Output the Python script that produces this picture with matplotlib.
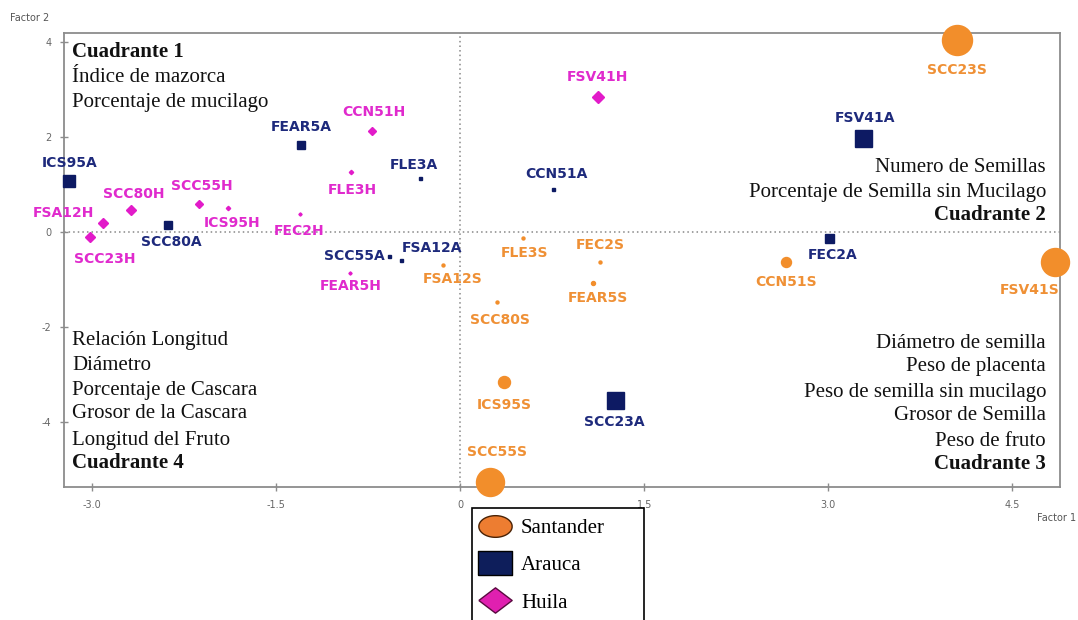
import numpy as np
import matplotlib.pyplot as plt
from matplotlib.lines import Line2D
from matplotlib.path import Path

# Data (Factor 1, Factor 2, marker diameter in px)
santander_names = ["SCC23S", "FSV41S", "SCC55S", "ICS95S", "CCN51S",
                   "FLE3S", "FEC2S", "FEAR5S", "FSA12S", "SCC80S"]
santander_f1 = [4.05, 4.85, 0.24, 0.36, 2.66, 0.51, 1.14, 1.08, -0.14, 0.30]
santander_f2 = [4.05, -0.63, -5.27, -3.16, -0.63, -0.13, -0.63, -1.08, -0.70, -1.48]
santander_size = [30, 28, 28, 12, 10, 3, 3, 4, 3, 3]

arauca_names = ["FSV41A", "SCC23A", "ICS95A", "FEAR5A", "SCC80A",
                "FEC2A", "FLE3A", "CCN51A", "SCC55A", "FSA12A"]
arauca_f1 = [3.28, 1.26, -3.19, -1.30, -2.38, 3.01, -0.33, 0.76, -0.58, -0.48]
arauca_f2 = [1.98, -3.54, 1.08, 1.84, 0.15, -0.13, 1.14, 0.91, -0.51, -0.59]
arauca_size = [17, 17, 12, 8, 8, 9, 3, 3, 3, 3]

huila_names = ["FSV41H", "CCN51H", "FLE3H", "FEC2H", "ICS95H",
               "SCC55H", "SCC80H", "FSA12H", "SCC23H", "FEAR5H"]
huila_f1 = [1.12, -0.72, -0.89, -1.31, -1.89, -2.13, -2.68, -2.91, -3.02, -0.90]
huila_f2 = [2.85, 2.13, 1.27, 0.38, 0.51, 0.59, 0.46, 0.19, -0.11, -0.86]
huila_size = [11, 8, 4, 3, 4, 8, 10, 9, 9, 3]

x_ticks = [-3.0, -1.5, 0, 1.5, 3.0, 4.5]
x_tick_labels = ["-3.0", "-1.5", "0", "1.5", "3.0", "4.5"]
y_ticks = [4, 2, 0, -2, -4]
y_tick_labels = ["4", "2", "0", "-2", "-4"]

quad1 = ["Cuadrante 1", "Índice de mazorca", "Porcentaje de mucilago"]
quad2 = ["Numero de Semillas", "Porcentaje de Semilla sin Mucilago", "Cuadrante 2"]
quad4 = ["Relación Longitud", "Diámetro", "Porcentaje de Cascara",
         "Grosor de la Cascara", "Longitud del Fruto", "Cuadrante 4"]
quad3 = ["Diámetro de semilla", "Peso de placenta", "Peso de semilla sin mucilago",
         "Grosor de Semilla", "Peso de fruto", "Cuadrante 3"]

legend_labels = ["Santander", "Arauca", "Huila"]

# label offsets in pixels (dx, dy up), alignment
label_offsets = {
    "SCC23S": (0, -30, "center"), "FSV41S": (-25, -28, "center"),
    "SCC55S": (7, 30, "center"), "ICS95S": (0, -23, "center"),
    "CCN51S": (0, -20, "center"), "FLE3S": (2, -15, "center"),
    "FEC2S": (0, 17, "center"), "FEAR5S": (5, -15, "center"),
    "FSA12S": (10, -14, "center"), "SCC80S": (3, -18, "center"),
    "FSV41A": (2, 20, "center"), "SCC23A": (0, -22, "center"),
    "ICS95A": (1, 18, "center"), "FEAR5A": (1, 18, "center"),
    "SCC80A": (3, -17, "center"), "FEC2A": (3, -17, "center"),
    "FLE3A": (-6, 13, "center"), "CCN51A": (3, 15, "center"),
    "SCC55A": (-4, 0, "right"), "FSA12A": (0, 12, "left"),
    "FSV41H": (0, 20, "center"), "CCN51H": (2, 19, "center"),
    "FLE3H": (1, -18, "center"), "FEC2H": (0, -17, "center"),
    "ICS95H": (4, -15, "center"), "SCC55H": (3, 18, "center"),
    "SCC80H": (2, 16, "center"), "FSA12H": (-9, 10, "right"),
    "SCC23H": (15, -22, "center"), "FEAR5H": (1, -13, "center"),
}

ORANGE = "#F28E2B"
NAVY = "#0D1A63"
MAGENTA = "#E21BC9"
ORANGE_TXT = "#EF9035"
NAVY_TXT = "#1E2A7C"
MAGENTA_TXT = "#E02ACD"

W, H = 1078, 620
fig = plt.figure(figsize=(W / 100, H / 100), dpi=100)
ax = fig.add_axes([64 / W, 1 - 487 / H, (1060 - 64) / W, (487 - 33) / H])
ax.set_xlim(-3.23, 4.89)
ax.set_ylim(-5.38, 4.2)

ax.axvline(0, color="#888888", ls=(0, (1, 2)), lw=1.1, zorder=1)
ax.axhline(0, color="#888888", ls=(0, (1, 2)), lw=1.1, zorder=1)

groups = [
    (santander_names, santander_f1, santander_f2, santander_size, "o", ORANGE, ORANGE_TXT),
    (arauca_names, arauca_f1, arauca_f2, arauca_size, "s", NAVY, NAVY_TXT),
    (huila_names, huila_f1, huila_f2, huila_size, "D", MAGENTA, MAGENTA_TXT),
]
for names, xs, ys, sizes, mk, col, tcol in groups:
    for n, x, y, d in zip(names, xs, ys, sizes):
        ms = d * 0.72
        if mk == "D":
            ms = ms / 1.3
        ax.plot(x, y, marker=mk, ms=ms, color=col, mec=col, ls="none",
                zorder=3, clip_on=False)
        dx, dy, ha = label_offsets[n]
        ax.annotate(n, (x, y), xytext=(dx * 0.72, dy * 0.72),
                    textcoords="offset points", ha=ha, va="center",
                    color=tcol, fontsize=10, fontweight="bold",
                    family="DejaVu Sans", zorder=4)

for sp in ax.spines.values():
    sp.set_color("#8c8c8c")
    sp.set_linewidth(1.3)
ax.set_xticks(x_ticks)
ax.set_xticklabels(x_tick_labels)
ax.set_yticks(y_ticks)
ax.set_yticklabels(y_tick_labels)
ax.tick_params(direction="inout", length=6, width=1, color="#8c8c8c",
               labelsize=7, labelcolor="#666666", pad=6)

fig.text(10 / W, 1 - 18 / H, "Factor 2", fontsize=7, color="#555555", va="center")
fig.text(1076 / W, 1 - 518 / H, "Factor 1", fontsize=7, color="#555555",
         va="center", ha="right")

serif = "Liberation Serif"


def put_lines(lines, x_px, y_px, ha, bold_idx):
    for i, (t, yy) in enumerate(zip(lines, y_px)):
        fig.text(x_px / W, 1 - yy / H, t, ha=ha, va="center", fontsize=15,
                 family=serif, fontweight="bold" if i == bold_idx else "normal",
                 color="#111111")


put_lines(quad1, 72, [52, 77, 102], "left", 0)
put_lines(quad2, 1046, [168, 192, 215], "right", 2)
put_lines(quad4, 72, [341, 366, 390, 414, 441, 463], "left", 5)
put_lines(quad3, 1046, [343, 367, 392, 415, 442, 464], "right", 5)

# stretched legend markers (wider than tall, as in the original)
t = np.linspace(0, 2 * np.pi, 60)
ellipse = Path(np.column_stack([np.cos(t), 0.65 * np.sin(t)]))
rect = Path([(-1, -0.71), (1, -0.71), (1, 0.71), (-1, 0.71), (-1, -0.71)])
diamond = Path([(-1, 0), (0, -0.76), (1, 0), (0, 0.76), (-1, 0)])

handles = [
    Line2D([], [], marker=ellipse, ls="none", ms=24, mfc="#ED7D31", mec="#4a2205", mew=1),
    Line2D([], [], marker=rect, ls="none", ms=25, mfc="#0E1E5B", mec="#000000", mew=1),
    Line2D([], [], marker=diamond, ls="none", ms=24, mfc="#E020B0", mec="#5a0a40", mew=1),
]
leg = fig.legend(handles, legend_labels, loc="upper left", mode="expand",
                 bbox_to_anchor=(472 / W, 0, (644 - 472) / W, 1 - 508 / H),
                 frameon=True, fancybox=False, edgecolor="black", framealpha=1,
                 prop={"family": serif, "size": 15}, labelspacing=0.85,
                 handletextpad=0.6, borderpad=0.5, handlelength=1.25,
                 borderaxespad=0)
leg.get_frame().set_linewidth(1.2)

fig.savefig("out.png", dpi=100)
